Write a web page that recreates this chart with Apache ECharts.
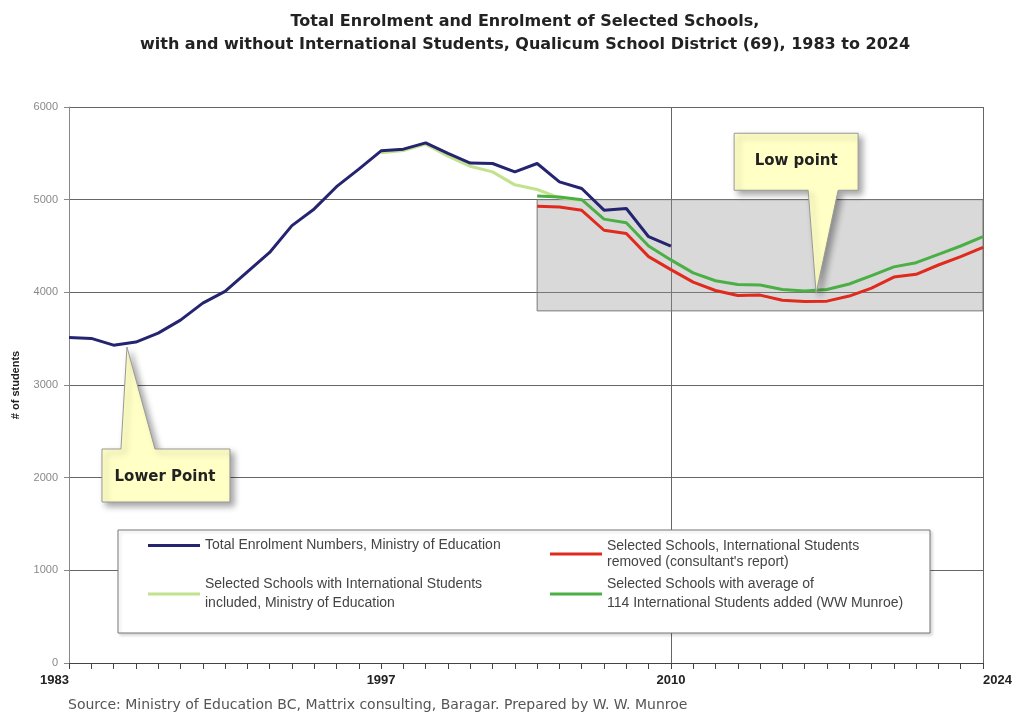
<!DOCTYPE html>
<html><head><meta charset="utf-8">
<script src="https://cdn.jsdelivr.net/npm/echarts@6/dist/echarts.min.js"></script>
<style>html,body{margin:0;padding:0;background:#fff}#c{width:1019px;height:719px}</style>
</head><body><div id="c"></div>
<script>
// ---- data ----
const years = ['1983','1984','1985','1986','1987','1988','1989','1990','1991','1992','1993','1994','1995','1996','1997','1998','1999','2000','2001','2002','2003','2004','2005','2006','2007','2008','2009','2010','2011','2012','2013','2014','2015','2016','2017','2018','2019','2020','2021','2022','2023','2024'];
const yTicks = [0,1000,2000,3000,4000,5000,6000];
const xLabelYears = ['1983','1997','2010','2024'];

const totalStart = '1983';
const totalEnrolment = [3513,3503,3430,3463,3560,3700,3883,4010,4221,4430,4720,4900,5140,5330,5527,5545,5613,5500,5395,5390,5300,5390,5192,5120,4887,4905,4600,4498];

const withIntlStart = '1997';
const withIntlIncluded = [5505,5530,5600,5470,5360,5300,5160,5110,5020,4990];

const removedStart = '2004';
const intlRemoved = [4930,4920,4885,4670,4635,4385,4245,4110,4020,3965,3970,3915,3900,3905,3960,4045,4165,4195,4295,4385,4485];

const addedStart = '2004';
const intlAdded = [5040,5030,5000,4790,4750,4500,4350,4210,4125,4085,4080,4030,4015,4030,4090,4180,4275,4320,4410,4500,4600];

const shadedFrom = '2004', shadedTo = '2024', shadedLow = 3800, shadedHigh = 5000;

const names = {
  total: 'Total Enrolment Numbers, Ministry of Education',
  removed: "Selected Schools, International Students\nremoved (consultant's report)",
  incl: 'Selected Schools with International Students\nincluded, Ministry of Education',
  added: 'Selected Schools with average of\n114 International Students added (WW Munroe)'
};

function pairs(start, vals){ const s = years.indexOf(start); return vals.map((v,i)=>[years[s+i], v]); }

const chart = echarts.init(document.getElementById('c'), null, {renderer:'canvas'});
const FONT = "'Liberation Sans', Arial, sans-serif";

function lineSeries(name, data, color, z){
  return {type:'line', name, data, symbol:'none', smooth:false, z,
    lineStyle:{color, width:3}, itemStyle:{color}, emphasis:{disabled:true}, silent:true};
}
function legendAt(name, left, top, lh){
  return {data:[name], left, top, orient:'horizontal', icon:'rect', itemWidth:52, itemHeight:3,
    itemGap:0, padding:0, selectedMode:false,
    textStyle:{fontFamily:FONT, fontSize:14, color:'#444', lineHeight:lh, padding:[0,0,0,0]}};
}

const option = {
  animation:false,
  backgroundColor:'#fff',
  title:{
    text:'Total Enrolment and Enrolment of Selected Schools,\nwith and without International Students, Qualicum School District (69), 1983 to 2024',
    left:520, top:5, textAlign:'center',
    textStyle:{fontFamily:"'DejaVu Sans', sans-serif", fontWeight:'bold', fontSize:16, color:'#222', lineHeight:23}
  },
  grid:{left:69, right:36, top:107, bottom:56, containLabel:false, outerBoundsMode:'none'},
  xAxis:{
    type:'category', data:years, boundaryGap:false,
    axisLine:{show:true, lineStyle:{color:'#444', width:1}},
    axisTick:{show:true, interval:0, length:6, lineStyle:{color:'#444'}},
    splitLine:{show:true, interval:(i,v)=> v==='2010' || v==='2024', lineStyle:{color:'#666', width:1}},
    axisLabel:{interval:(i,v)=> xLabelYears.includes(v), margin:11, fontFamily:FONT, fontWeight:'bold', fontSize:13, color:'#222',
      alignMinLabel:'right', alignMaxLabel:'left'}
  },
  yAxis:{
    type:'value', min:yTicks[0], max:yTicks[yTicks.length-1], interval:1000,
    name:'# of students', nameLocation:'middle', nameGap:48, nameRotate:90,
    nameTextStyle:{fontFamily:FONT, fontWeight:'bold', fontSize:11, color:'#222'},
    axisLine:{show:true, lineStyle:{color:'#888'}},
    axisTick:{show:true, length:5, lineStyle:{color:'#888'}},
    splitLine:{show:true, lineStyle:{color:'#666', width:1}},
    axisLabel:{margin:11, fontFamily:FONT, fontSize:11, color:'#888', formatter:(v)=>String(v)}
  },
  legend:[
    legendAt(names.total, 148, 538, 15),
    legendAt(names.removed, 550, 538, 16),
    legendAt(names.incl, 148, 575, 19),
    legendAt(names.added, 550, 575, 19)
  ],
  series:[
    {type:'line', name:'box', data:[], silent:true, z:1,
     markArea:{silent:true, itemStyle:{color:'rgba(150,150,150,0.36)', borderColor:'#777', borderWidth:1},
       data:[[{xAxis:shadedFrom, yAxis:shadedLow},{xAxis:shadedTo, yAxis:shadedHigh}]]}},
    lineSeries(names.incl, pairs(withIntlStart, withIntlIncluded), '#c2e28e', 3),
    lineSeries(names.added, pairs(addedStart, intlAdded), '#4caf45', 4),
    lineSeries(names.removed, pairs(removedStart, intlRemoved), '#e02a1e', 5),
    lineSeries(names.total, pairs(totalStart, totalEnrolment), '#252470', 6)
  ]
};
chart.setOption(option);

function interp(c0, c1, f, val){
  const a = chart.convertToPixel({gridIndex:0}, [c0, val]);
  const b = chart.convertToPixel({gridIndex:0}, [c1, val]);
  return [a[0] + (b[0]-a[0])*f, a[1]];
}
const calloutStyle = {fill:'#ffffc6', stroke:'#999', lineWidth:1, shadowBlur:6, shadowOffsetX:4, shadowOffsetY:4, shadowColor:'rgba(0,0,0,0.35)'};
const lowTip = interp('2016','2017',0.47,3990);
const lowerTip = interp('1985','1986',0.6,3410);
const tx = lowTip[0], ty = lowTip[1];
const ux = lowerTip[0], uy = lowerTip[1];

chart.setOption({
  graphic:[
    {type:'rect', z:1, shape:{x:118, y:530, width:812, height:103}, style:{fill:'#fff', stroke:'#777', lineWidth:1, shadowBlur:3, shadowOffsetX:2, shadowOffsetY:2, shadowColor:'rgba(0,0,0,0.15)'}},
    {type:'polygon', z:20, shape:{points:[[tx-81,ty-160],[tx+43,ty-160],[tx+43,ty-103],[tx+23,ty-103],[tx+1,ty],[tx-7,ty-103],[tx-81,ty-103]]}, style:calloutStyle},
    {type:'text', z:21, style:{text:'Low point', x:tx-19, y:ty-132, textAlign:'center', textVerticalAlign:'middle', fontFamily:"'DejaVu Sans', sans-serif", fontWeight:'bold', fontSize:15, fill:'#222'}},
    {type:'polygon', z:20, shape:{points:[[ux,uy],[ux+28,uy+102],[ux+103,uy+102],[ux+103,uy+155],[ux-25,uy+155],[ux-25,uy+102],[ux-6,uy+102]]}, style:calloutStyle},
    {type:'text', z:21, style:{text:'Lower Point', x:ux+38, y:uy+130, textAlign:'center', textVerticalAlign:'middle', fontFamily:"'DejaVu Sans', sans-serif", fontWeight:'bold', fontSize:15, fill:'#222'}},
    {type:'text', z:21, style:{text:'Source: Ministry of Education BC, Mattrix consulting, Baragar. Prepared by W. W. Munroe', x:68, y:705, textVerticalAlign:'middle', fontFamily:"'DejaVu Sans', sans-serif", fontSize:14, fill:'#555'}}
  ]
});
</script></body></html>
